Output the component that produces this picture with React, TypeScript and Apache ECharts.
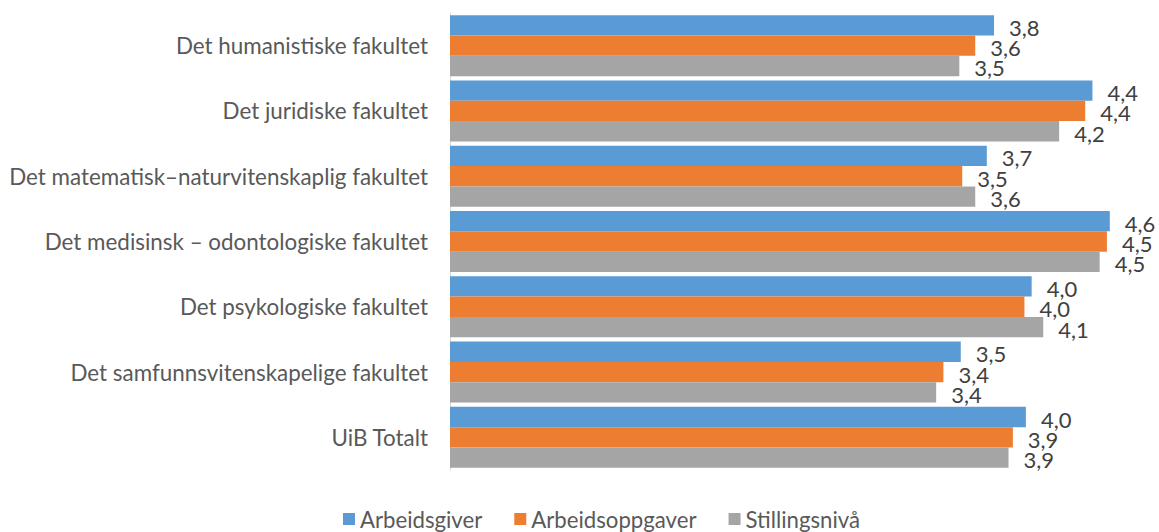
import React, { useEffect, useRef } from "react";
import * as echarts from "echarts";

const categories = [
  "Det humanistiske fakultet",
  "Det juridiske fakultet",
  "Det matematisk–naturvitenskaplig fakultet",
  "Det medisinsk – odontologiske fakultet",
  "Det psykologiske fakultet",
  "Det samfunnsvitenskapelige fakultet",
  "UiB Totalt",
];
const seriesNames = ["Arbeidsgiver", "Arbeidsoppgaver", "Stillingsnivå"];
const arbeidsgiver = [3.76, 4.44, 3.71, 4.56, 4.02, 3.53, 3.98];
const arbeidsoppgaver = [3.63, 4.39, 3.54, 4.54, 3.97, 3.41, 3.89];
const stillingsniva = [3.52, 4.21, 3.63, 4.49, 4.1, 3.36, 3.86];
const colors = ["#5B9BD5", "#ED7D31", "#A5A5A5"];

const FONT = "Lato, 'Open Sans', sans-serif";

export default function App() {
  const ref = useRef<HTMLDivElement>(null);
  useEffect(() => {
    if (!ref.current) return;
    const chart = echarts.init(ref.current, undefined, { renderer: "svg" });
    const data = [arbeidsgiver, arbeidsoppgaver, stillingsniva];
    chart.setOption({
      animation: false,
      textStyle: { fontFamily: FONT },
      grid: { left: 450, top: 13, height: 457, right: 0 },
      xAxis: {
        type: "value",
        min: 0,
        max: 4.9,
        show: false,
        splitLine: { show: false },
      },
      yAxis: {
        type: "category",
        data: categories,
        inverse: true,
        axisLine: { show: true, lineStyle: { color: "#d9d9d9", width: 1 } },
        axisTick: { show: false },
        axisLabel: { color: "#595959", fontSize: 22.4, margin: 22, fontFamily: FONT },
      },
      legend: {
        data: seriesNames,
        left: 343,
        top: 508,
        itemWidth: 12,
        itemHeight: 12,
        itemGap: 32,
        icon: "rect",
        padding: 0,
        textStyle: { color: "#595959", fontSize: 22.2, fontFamily: FONT },
      },
      series: seriesNames.map((name, i) => ({
        name,
        type: "bar",
        data: data[i],
        barGap: "0%",
        barCategoryGap: "6.6%",
        itemStyle: { color: colors[i] },
        label: {
          show: true,
          position: "right",
          distance: 15,
          offset: [0, 2],
          color: "#404040",
          fontSize: 22,
          fontFamily: FONT,
          formatter: (p: any) => p.value.toFixed(1).replace(".", ","),
        },
      })),
    });
    return () => chart.dispose();
  }, []);
  return (
    <div
      ref={ref}
      style={{ position: "absolute", left: 0, top: 0, width: 1159, height: 532 }}
    />
  );
}
